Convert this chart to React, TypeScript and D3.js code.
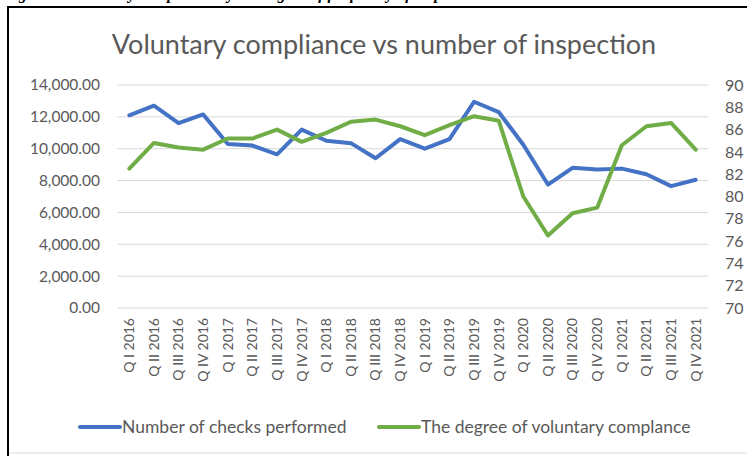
import * as d3 from "d3";

const quarters = [
  "Q I 2016", "Q II 2016", "Q III 2016", "Q IV 2016",
  "Q I 2017", "Q II 2017", "Q III 2017", "Q IV 2017",
  "Q I 2018", "Q II 2018", "Q III 2018", "Q IV 2018",
  "Q I 2019", "Q II 2019", "Q III 2019", "Q IV 2019",
  "Q I 2020", "Q II 2020", "Q III 2020", "Q IV 2020",
  "Q I 2021", "Q II 2021", "Q III 2021", "Q IV 2021",
];

const checks = [
  12100, 12700, 11600, 12150, 10300, 10200, 9650, 11200,
  10500, 10350, 9400, 10600, 10000, 10600, 12950, 12300,
  10250, 7750, 8800, 8700, 8750, 8400, 7650, 8050,
];

const compliance = [
  82.5, 84.8, 84.4, 84.2, 85.2, 85.2, 86.0, 84.9,
  85.7, 86.7, 86.9, 86.3, 85.5, 86.4, 87.2, 86.8,
  80.0, 76.5, 78.5, 79.0, 84.6, 86.3, 86.6, 84.2,
];

const leftTicks = [0, 2000, 4000, 6000, 8000, 10000, 12000, 14000];
const rightTicks = [70, 72, 74, 76, 78, 80, 82, 84, 86, 88, 90];

const seriesNames = ["Number of checks performed", "The degree of voluntary complance"];
const colors = ["#4472C4", "#70AD47"];

const W = 747;
const H = 456;
const font = "Lato, 'Open Sans', sans-serif";
const grey = "#595959";

export default function App() {
  const x = d3.scaleBand().domain(quarters).range([117, 708]);
  const yL = d3.scaleLinear().domain([0, 14000]).range([308, 85]);
  const yR = d3.scaleLinear().domain([70, 90]).range([308, 85]);
  const cx = (q: string) => (x(q) ?? 0) + x.bandwidth() / 2;

  const lineL = d3.line<number>().x((_, i) => cx(quarters[i])).y((d) => yL(d));
  const lineR = d3.line<number>().x((_, i) => cx(quarters[i])).y((d) => yR(d));
  const fmt = d3.format(",.2f");

  return (
    <svg
      width={W}
      height={H}
      style={{ position: "absolute", left: 0, top: 0, background: "#fff" }}
    >
      {/* caption of the page, mostly cut off */}
      <text x={4} y={-1} fontFamily="'Liberation Serif', serif" fontStyle="italic" fontWeight="bold" fontSize={16} fill="#000">
        Figure 3: Voluntary compliance by the degree of frequency of inspections
      </text>
      <line x1={8} x2={W} y1={7} y2={7} stroke="#000" strokeWidth={2} />
      <line x1={8} x2={8} y1={6} y2={H} stroke="#000" strokeWidth={2} />
      <line x1={9} x2={W} y1={453} y2={453} stroke="#d9d9d9" strokeWidth={1} />

      <text x={384} y={54} textAnchor="middle" fontFamily={font} fontSize={27} fill={grey}>
        Voluntary compliance vs number of inspection
      </text>

      {leftTicks.map((t) => (
        <g key={t}>
          <line x1={117} x2={708} y1={yL(t)} y2={yL(t)} stroke="#d9d9d9" strokeWidth={1} />
          <text x={100} y={yL(t)} dy="0.35em" textAnchor="end" fontFamily={font} fontSize={15.5} fill={grey}>
            {fmt(t)}
          </text>
        </g>
      ))}
      {rightTicks.map((t) => (
        <text key={t} x={725} y={yR(t)} dy="0.35em" fontFamily={font} fontSize={16} fill={grey}>
          {t}
        </text>
      ))}

      {quarters.map((q) => (
        <text
          key={q}
          transform={`translate(${cx(q)},318) rotate(-90)`}
          dy="0.35em"
          textAnchor="end"
          fontFamily={font}
          fontSize={14}
          fill={grey}
        >
          {q}
        </text>
      ))}

      <path d={lineL(checks) ?? ""} fill="none" stroke={colors[0]} strokeWidth={4} strokeLinejoin="round" strokeLinecap="round" />
      <path d={lineR(compliance) ?? ""} fill="none" stroke={colors[1]} strokeWidth={4} strokeLinejoin="round" strokeLinecap="round" />

      {[80, 379].map((lx, i) => (
        <g key={i}>
          <line x1={lx} x2={lx + 40} y1={427} y2={427} stroke={colors[i]} strokeWidth={4} strokeLinecap="round" />
          <text x={lx + 42} y={427} dy="0.35em" fontFamily={font} fontSize={17.5} fill={grey}>
            {seriesNames[i]}
          </text>
        </g>
      ))}
    </svg>
  );
}
